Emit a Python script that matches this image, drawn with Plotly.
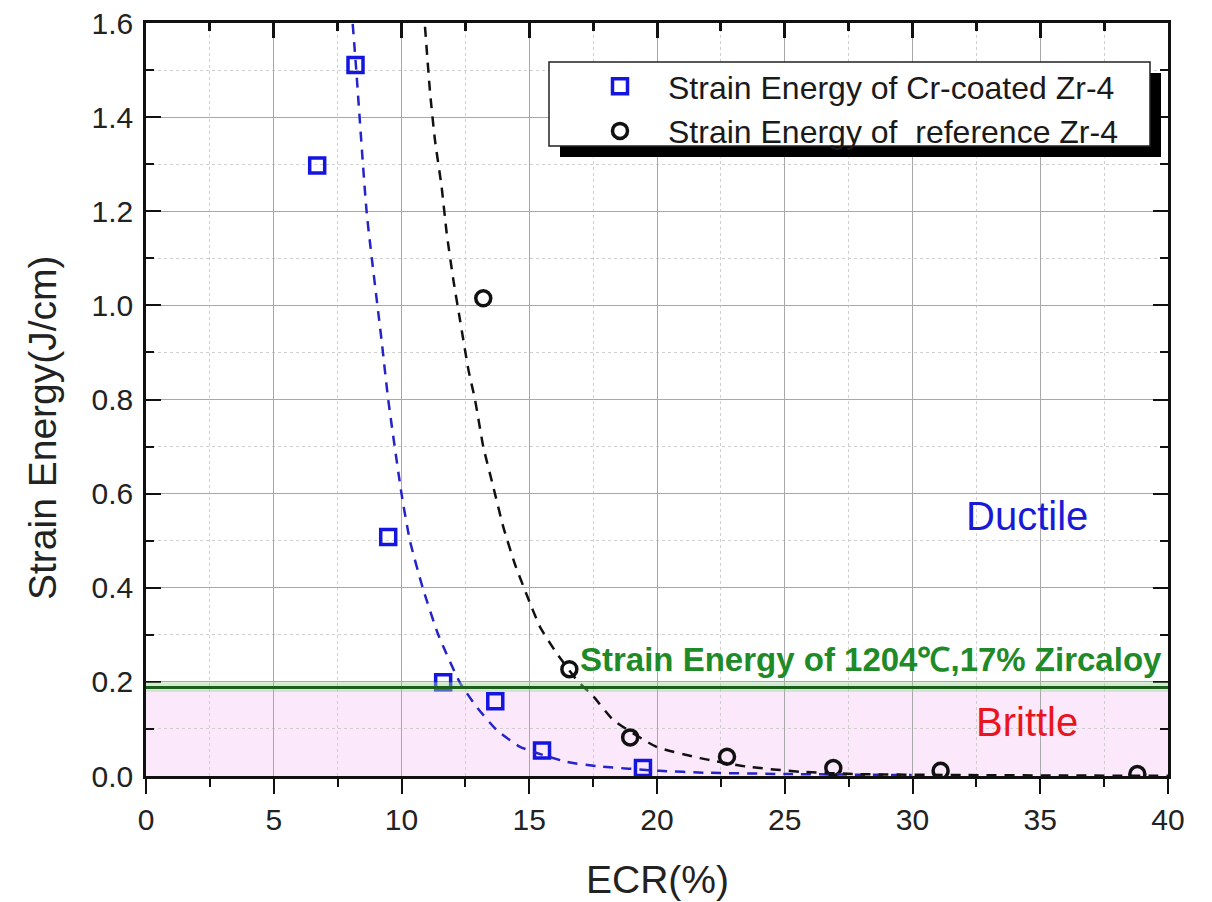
import plotly.graph_objects as go

# ---------------- data ----------------
cr_ecr = [6.7, 8.2, 9.48, 11.63, 13.67, 15.5, 19.45]
cr_energy = [1.297, 1.511, 0.508, 0.199, 0.159, 0.054, 0.017]

ref_ecr = [13.2, 16.57, 18.95, 22.74, 26.9, 31.1, 38.8]
ref_energy = [1.015, 0.227, 0.082, 0.041, 0.017, 0.011, 0.004]

cr_fit_x = [8.09, 8.22, 8.64, 9.22, 9.48, 10.0, 10.33, 10.83, 11.44, 12.29, 12.94,
            13.72, 14.64, 16.46, 17.64, 20.1, 21.9, 25.3, 29.97]
cr_fit_y = [1.598, 1.507, 1.196, 0.926, 0.80, 0.60, 0.50, 0.40, 0.30, 0.198, 0.147,
            0.098, 0.062, 0.030, 0.021, 0.011, 0.007, 0.004, 0.002]

ref_fit_x = [10.92, 11.12, 11.31, 11.57, 11.77, 12.03, 12.29, 12.62, 12.88, 13.2, 13.59,
             13.98, 14.44, 14.9, 15.42, 16.07, 16.86, 17.51, 18.29, 19.98, 21.68, 23.51,
             25.6, 27.95, 32.0, 36.0, 40.0]
ref_fit_y = [1.592, 1.451, 1.351, 1.252, 1.153, 1.054, 0.969, 0.863, 0.799, 0.700, 0.615,
             0.530, 0.450, 0.385, 0.317, 0.261, 0.204, 0.169, 0.119, 0.062, 0.038, 0.020,
             0.009, 0.004, 0.002, 0.001, 0.0005]

threshold = 0.188          # strain energy of 1204 C, 17% Zircaloy
brittle_top = 0.182
green_band = [0.179, 0.199]

x_ticks = [0, 5, 10, 15, 20, 25, 30, 35, 40]
y_ticks = [0.0, 0.2, 0.4, 0.6, 0.8, 1.0, 1.2, 1.4, 1.6]
y_tick_labels = ["0.0", "0.2", "0.4", "0.6", "0.8", "1.0", "1.2", "1.4", "1.6"]

# ---------------- figure ----------------
FONT = "Liberation Sans, Arial, sans-serif"
BLUE = "#1515e0"
fig = go.Figure()

# fit curves use the top mirror x axis (same 0-40 range as the bottom axis)
fig.add_trace(go.Scatter(x=cr_fit_x, y=cr_fit_y, mode="lines", showlegend=False, xaxis="x2",
                         line=dict(color="#2424c8", width=2.5, dash="10px,8px", shape="spline", smoothing=0.5),
                         hoverinfo="skip"))
fig.add_trace(go.Scatter(x=ref_fit_x, y=ref_fit_y, mode="lines", showlegend=False, xaxis="x2",
                         line=dict(color="#111111", width=2.5, dash="10px,8px", shape="spline", smoothing=0.5),
                         hoverinfo="skip"))
fig.add_trace(go.Scatter(x=cr_ecr, y=cr_energy, mode="markers",
                         name="Strain Energy of Cr-coated Zr-4",
                         marker=dict(symbol="square-open", size=15, color=BLUE,
                                     line=dict(width=3.5, color=BLUE))))
fig.add_trace(go.Scatter(x=ref_ecr, y=ref_energy, mode="markers",
                         name="Strain Energy of  reference Zr-4",
                         marker=dict(symbol="circle-open", size=15, color="#111111",
                                     line=dict(width=3.5, color="#111111"))))

shapes = [
    dict(type="rect", xref="paper", yref="y", x0=0, x1=1, y0=0, y1=brittle_top,
         fillcolor="#fce8fb", line_width=0, layer="below"),
    dict(type="rect", xref="paper", yref="y", x0=0, x1=1, y0=green_band[0], y1=green_band[1],
         fillcolor="rgba(150,210,150,0.45)", line_width=0, layer="above"),
    dict(type="line", xref="paper", yref="y", x0=0, x1=1, y0=threshold, y1=threshold,
         line=dict(color="#1c5e1c", width=3), layer="above"),
]

# legend box with shadow (pixel -> paper conversions)
L, R, T, B = 146, 1168, 23, 776
def px(xp):
    return (xp - L) / (R - L)
def py(yp):
    return (B - yp) / (B - T)

shapes.append(dict(type="rect", xref="paper", yref="paper",
                   x0=px(560), x1=px(1161), y0=py(157), y1=py(73),
                   fillcolor="black", line_width=0, layer="above"))
shapes.append(dict(type="rect", xref="paper", yref="paper",
                   x0=px(549), x1=px(1150), y0=py(146), y1=py(62),
                   fillcolor="white", line=dict(color="#222222", width=1.5), layer="above"))

annotations = [
    dict(text="Ductile", x=34.5, y=0.552, xref="x", yref="y", showarrow=False,
         font=dict(family=FONT, size=40, color="#1a1ad6")),
    dict(text="Brittle", x=34.5, y=0.115, xref="x", yref="y", showarrow=False,
         font=dict(family=FONT, size=40, color="#e8141e")),
    dict(text="<b>Strain Energy of 1204℃,17% Zircaloy</b>", x=39.85, y=0.248, xref="x", yref="y",
         xanchor="right", showarrow=False,
         font=dict(family=FONT, size=33, color="#1e8a28")),
    dict(text="ECR(%)", x=px(657), y=py(880), xref="paper", yref="paper", showarrow=False,
         xanchor="center", yanchor="middle",
         font=dict(family=FONT, size=39, color="#222222")),
    dict(text="Strain Energy(J/cm)", x=px(42), y=py(428), xref="paper", yref="paper",
         xanchor="center", yanchor="middle",
         showarrow=False, textangle=-90,
         font=dict(family=FONT, size=39, color="#222222")),
]

grid_major = "#a8a8a8"
grid_minor = "#cfcfcf"

fig.update_layout(
    width=1212, height=902,
    margin=dict(l=L, r=1212 - R, t=T, b=902 - B, autoexpand=False),
    paper_bgcolor="white", plot_bgcolor="white",
    font=dict(family=FONT, color="#222222"),
    shapes=shapes, annotations=annotations,
    showlegend=True,
    legend=dict(x=px(572), y=py(59), xanchor="left", yanchor="top",
                bgcolor="rgba(0,0,0,0)", borderwidth=0,
                font=dict(family=FONT, size=32, color="#1a1a1a"),
                itemwidth=86, tracegroupgap=0),
    xaxis=dict(range=[0, 40], tickvals=x_ticks, ticks="outside", ticklen=15, tickwidth=2,
               tickcolor="#111111", showline=True, linecolor="#111111", linewidth=2.5,
               mirror=True, showgrid=True, gridcolor=grid_major, gridwidth=1,
               zeroline=False, automargin=False,
               tickfont=dict(size=30, family=FONT, color="#222222"),
               minor=dict(dtick=2.5, tick0=0, ticks="outside", ticklen=8, tickwidth=2,
                          tickcolor="#111111", showgrid=True, gridcolor=grid_minor,
                          griddash="dot", gridwidth=1.2)),
    xaxis2=dict(range=[0, 40], overlaying="x", side="top", tickvals=x_ticks,
                ticks="inside", ticklen=15, tickwidth=2.5, tickcolor="#111111",
                showticklabels=False, showgrid=False, zeroline=False,
                automargin=False,
                minor=dict(dtick=2.5, tick0=0, ticks="inside", ticklen=8, tickwidth=2.5,
                           tickcolor="#111111", showgrid=False)),
    yaxis=dict(range=[0, 1.6], tickvals=y_ticks, ticktext=y_tick_labels,
               ticks="inside", ticklen=15, tickwidth=2, tickcolor="#111111",
               showline=True, linecolor="#111111", linewidth=2.5, mirror="ticks",
               showgrid=True, gridcolor=grid_major, gridwidth=1, zeroline=False,
               automargin=False,
               tickfont=dict(size=30, family=FONT, color="#222222"),
               ticklabelstandoff=4,
               minor=dict(dtick=0.1, tick0=0, ticks="inside", ticklen=8, tickwidth=2,
                          tickcolor="#111111", showgrid=True, gridcolor=grid_minor,
                          griddash="dot", gridwidth=1.2)),
)

fig.write_html("out.html")
